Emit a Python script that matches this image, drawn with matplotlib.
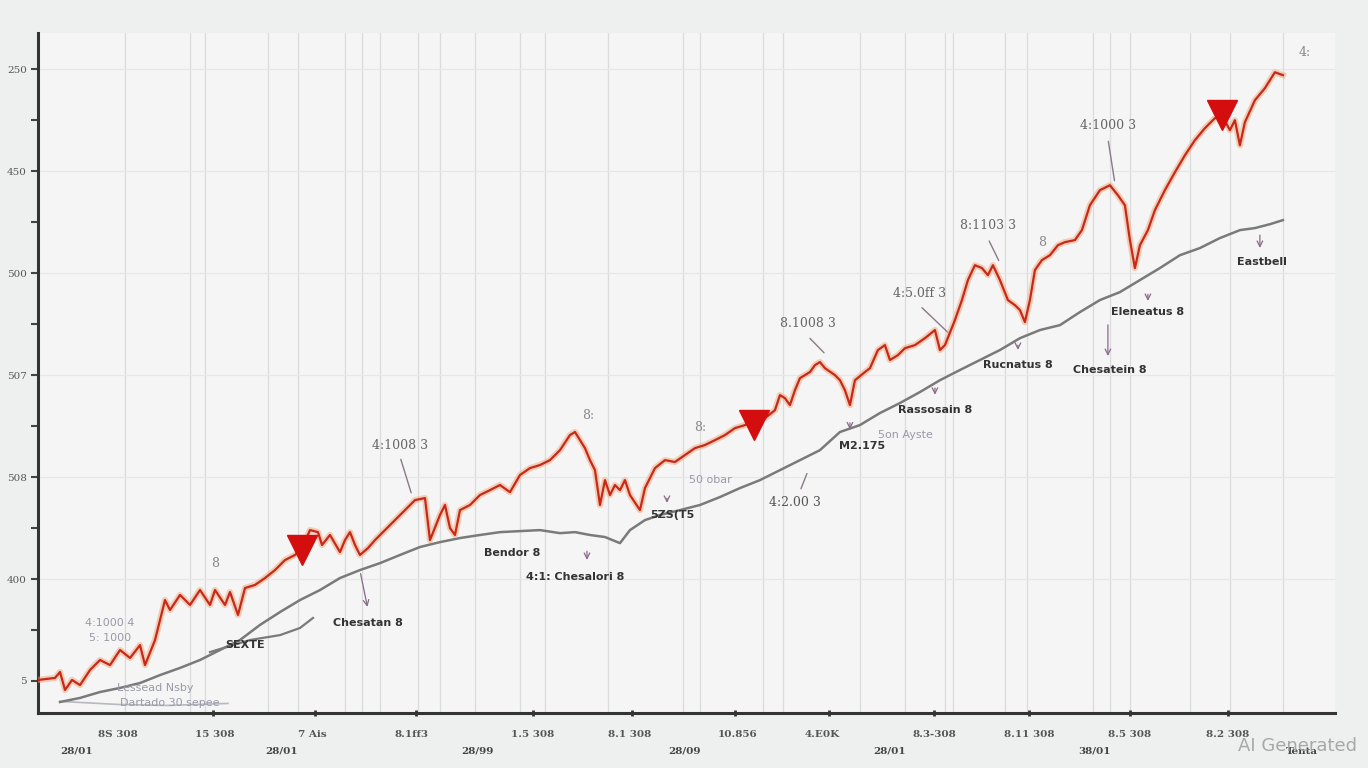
import matplotlib
matplotlib.use('Agg')
import matplotlib.pyplot as plt

# series (x = day index, y = index value)
red_x = [0, 17, 22, 27, 34, 42, 52, 62, 72, 82, 92, 102, 107, 117, 127, 132, 142, 152,
         162, 172, 177, 187, 192, 200, 207, 217, 227, 237, 247, 257, 264, 272, 280, 284,
         292, 302, 307, 312, 317, 322, 330, 337, 347, 357, 367, 377, 387, 392, 402, 407,
         412, 417, 422, 432, 442, 452, 462, 472, 482, 492, 502, 512, 522, 532, 537, 547,
         552, 557, 562, 567, 572, 577, 582, 587, 592, 602, 607, 617, 627, 637, 647, 657,
         667, 677, 687, 697, 707, 717, 727, 737, 742, 747, 752, 757, 762, 772, 777, 782,
         787, 797, 802, 807, 812, 817, 827, 832, 840, 847, 852, 860, 867, 877, 887, 897,
         902, 907, 917, 924, 930, 937, 944, 950, 955, 962, 970, 977, 982, 987, 992, 997,
         1004, 1012, 1020, 1027, 1037, 1044, 1052, 1062, 1072, 1080, 1087, 1092, 1097,
         1102, 1110, 1117, 1127, 1137, 1147, 1157, 1167, 1177, 1184, 1192, 1197, 1202,
         1207, 1217, 1227, 1237, 1245]
red_y = [0.5, 1.5, 4.4, -4.4, 0.5, -2.0, 5.4, 10.3, 7.8, 15.2, 11.3, 17.6, 7.8, 20.1,
         39.7, 34.8, 42.2, 37.3, 44.6, 37.3, 44.6, 37.3, 43.6, 32.4, 45.6, 47.1, 50.5,
         54.4, 59.3, 61.8, 65.2, 74.0, 73.0, 66.7, 71.6, 63.2, 69.1, 73.0, 66.7, 61.8,
         65.2, 69.1, 74.0, 78.9, 83.8, 88.7, 89.7, 69.1, 81.4, 86.3, 75.0, 71.6, 83.8,
         86.3, 91.2, 93.6, 96.1, 92.6, 101.0, 104.4, 105.9, 108.3, 113.2, 120.6, 122.1,
         114.2, 108.3, 103.4, 86.3, 98.5, 91.2, 96.1, 93.6, 98.5, 91.2, 83.8, 94.6, 104.4,
         108.3, 107.4, 110.8, 114.2, 115.7, 118.1, 120.6, 124.0, 125.5, 127.9, 128.9,
         132.8, 140.2, 138.7, 135.3, 142.6, 148.5, 151.5, 154.9, 156.4, 153.4, 150.0,
         147.5, 142.6, 135.3, 147.5, 151.5, 153.4, 162.3, 164.7, 157.4, 159.8, 163.2,
         164.7, 168.1, 172.1, 162.3, 164.7, 177.0, 186.8, 196.6, 203.9, 202.5, 199.0,
         203.9, 196.6, 186.8, 184.3, 181.9, 176.0, 186.8, 201.5, 206.4, 208.8, 213.7,
         215.2, 216.2, 221.1, 233.3, 240.7, 243.1, 238.2, 233.3, 216.2, 202.5, 213.7,
         221.1, 230.9, 240.7, 249.5, 257.8, 265.2, 271.1, 276.0, 277.5, 270.1, 275.0,
         262.7, 274.0, 284.8, 290.7, 298.5, 297.1]

gray_x = [22, 42, 62, 82, 102, 122, 142, 162, 182, 202, 222, 242, 262, 282, 302, 322,
          342, 362, 382, 402, 422, 442, 462, 482, 502, 522, 537, 552, 567, 582, 592, 607,
          622, 642, 662, 682, 702, 722, 742, 762, 782, 802, 822, 842, 862, 882, 902, 922,
          942, 962, 982, 1002, 1022, 1042, 1062, 1082, 1102, 1122, 1142, 1162, 1182,
          1202, 1217, 1232, 1245]
gray_y = [-10.3, -8.3, -5.4, -3.4, -1.0, 2.9, 6.4, 10.3, 15.2, 20.1, 27.5, 33.8, 39.7,
          44.6, 50.5, 54.4, 57.8, 61.8, 65.7, 68.1, 70.1, 71.6, 73.0, 73.5, 74.0, 72.5,
          73.0, 71.6, 70.6, 67.6, 74.0, 78.9, 81.4, 83.8, 86.3, 90.2, 94.6, 98.5, 103.4,
          108.3, 113.2, 122.1, 125.5, 131.4, 136.3, 141.7, 147.5, 152.5, 157.4, 162.3,
          168.1, 172.1, 174.5, 180.9, 186.8, 190.7, 196.6, 202.5, 208.8, 212.3, 217.2,
          221.1, 222.1, 224.0, 226.0]

short_x = [172, 212, 242, 262, 275]
short_y = [14.2, 20.1, 22.5, 26.0, 30.9]

faint_x = [22, 80, 130, 190]
faint_y = [-10.0, -11.5, -12.0, -11.0]

marker_x = [264, 716, 1184]
marker_y = [64.2, 125.5, 277.5]

xtick_pos = [80, 177, 274, 374, 495, 592, 700, 784, 896, 991, 1092, 1190]
xtick_lab = ['8S 308', '15 308', '7 Ais', '8.1ff3', '1.5 308', '8.1 308', '10.856',
             '4.E0K', '8.3-308', '8.11 308', '8.5 308', '8.2 308']
xtick_marks = [175, 277, 378, 495, 594, 697, 791, 896, 991, 1092, 1190]
x2_pos = [39, 244, 439, 647, 852, 1057, 1264]
x2_lab = ['28/01', '28/01', '28/99', '28/09', '28/01', '38/01', 'Tenta']

ytick_pos = [0, 50, 100, 150, 200, 250, 300]
ytick_lab = ['5', '400', '508', '507', '500', '450', '250']

vgrid = [87, 152, 167, 230, 260, 307, 324, 342, 380, 402, 437, 482, 507, 570, 645,
         662, 725, 745, 822, 867, 907, 915, 967, 989, 1055, 1072, 1092, 1152, 1192, 1245]

# (text, x, y, colour, arrow start, arrow end)
notes = [
    ('4:1000 3', 1070, 272.5, '#666666', (1070, 266), (1077, 244)),
    ('8:1103 3', 950, 223.5, '#666666', (950, 217), (962, 205)),
    ('4:5.0ff 3', 882, 190.2, '#666666', (882, 184), (912, 170)),
    ('8.1008 3', 770, 175.5, '#666666', (770, 169), (788, 160)),
    ('4:1008 3', 362, 115.7, '#666666', (362, 110), (374, 91)),
    ('4:2.00 3', 757, 87.3, '#555555', (770, 103), (762, 93)),
    ('8', 1004, 215.2, '#888888', None, None),
    ('8:', 550, 130.4, '#888888', None, None),
    ('8:', 662, 124.5, '#888888', None, None),
    ('8', 177, 57.8, '#888888', None, None),
    ('4:', 1267, 308.3, '#888888', None, None),
]
labels = [
    ('Eastbell', 1224, 205.4, (1222, 220), (1222, 211)),
    ('Eleneatus 8', 1110, 180.9, (1110, 191), (1110, 185)),
    ('Chesatein 8', 1072, 152.5, (1070, 176), (1070, 158)),
    ('Rucnatus 8', 980, 154.9, (980, 166), (980, 161)),
    ('Rassosain 8', 897, 132.8, (897, 145), (897, 139)),
    ('M2.175', 824, 115.2, (812, 128), (812, 122)),
    ('Bendor 8', 474, 62.7, None, None),
    ('4:1: Chesalori 8', 537, 51.0, (549, 65), (549, 58)),
    ('5ZS(T5', 634, 81.4, (629, 91), (629, 86)),
    ('Chesatan 8', 330, 28.4, (322, 54), (330, 35)),
    ('SEXTE', 207, 17.6, None, None),
]
faint_notes = [
    ('5on Ayste', 867, 120.6), ('50 obar', 672, 98.5),
    ('4:1000 4', 72, 28.4), ('5: 1000', 72, 21.1),
    ('Lessead Nsby', 117, -3.4), ('Dartado 30 sepee', 132, -10.8),
]

fig = plt.figure(figsize=(13.68, 7.68), dpi=100)
fig.patch.set_facecolor('#eef0ef')
ax = fig.add_axes([0.0278, 0.0716, 0.948, 0.885])
ax.set_facecolor('#f4f5f4')

for gx in vgrid:
    ax.axvline(gx, color='#dadcdc', lw=0.9, zorder=0)
for gy in ytick_pos[1:]:
    ax.axhline(gy, color='#e6e8e8', lw=0.9, zorder=0)

ax.plot(faint_x, faint_y, color='#b8b8c0', lw=1.2, zorder=2)
ax.plot(gray_x, gray_y, color='#7a7a7a', lw=1.8, zorder=3)
ax.plot(short_x, short_y, color='#7a7a7a', lw=1.6, zorder=3)
ax.plot(red_x, red_y, color='#f2a77a', lw=4.5, alpha=0.5, zorder=4, solid_joinstyle='round')
ax.plot(red_x, red_y, color='#c8281a', lw=1.6, zorder=5)
ax.plot(marker_x, marker_y, 'v', color='#d40e0e', markersize=21, zorder=6)

for t, x, y, c, a0, a1 in notes:
    ax.text(x, y, t, color=c, fontsize=9, ha='center', va='center',
            family='DejaVu Serif', zorder=7)
    if a0 is not None:
        ax.annotate('', xy=a1, xytext=a0,
                    arrowprops=dict(arrowstyle='-', color='#8a7a8a', lw=1.0))
for t, x, y, a0, a1 in labels:
    ax.text(x, y, t, color='#333333', fontsize=8, fontweight='bold', ha='center',
            va='center', zorder=7)
    if a0 is not None:
        ax.annotate('', xy=a1, xytext=a0,
                    arrowprops=dict(arrowstyle='->', color='#8a6a8a', lw=0.9))
for t, x, y in faint_notes:
    ax.text(x, y, t, color='#9a9aa8', fontsize=8, ha='center', va='center', zorder=7)

ax.set_xlim(0, 1297)
ax.set_ylim(-15.7, 317.6)

for s in ['top', 'right']:
    ax.spines[s].set_visible(False)
for s in ['left', 'bottom']:
    ax.spines[s].set_color('#333333')
    ax.spines[s].set_linewidth(2.2)

ax.set_xticks(xtick_marks)
ax.set_xticklabels([])
ax.tick_params(axis='x', direction='inout', length=5, width=2, color='#333333')
for x, t in zip(xtick_pos, xtick_lab):
    ax.text(x, -0.025, t, transform=ax.get_xaxis_transform(), ha='center', va='top',
            fontsize=7.5, color='#555555', fontweight='bold', family='DejaVu Serif')
for x, t in zip(x2_pos, x2_lab):
    ax.text(x, -0.05, t, transform=ax.get_xaxis_transform(), ha='center', va='top',
            fontsize=7.5, color='#444444', fontweight='bold', family='DejaVu Serif')

ax.set_yticks(ytick_pos)
ax.set_yticklabels(ytick_lab, fontsize=7.5, color='#555555', family='DejaVu Serif')
ax.set_yticks([25, 75, 125, 175, 225, 275], minor=True)
ax.tick_params(axis='y', which='both', direction='out', length=5, width=1.5,
               color='#444444', pad=3)

fig.text(0.992, 0.028, 'AI Generated', ha='right', va='center', fontsize=13,
         color='#a8a8a8')

fig.savefig('out.png', dpi=100, facecolor=fig.get_facecolor())
